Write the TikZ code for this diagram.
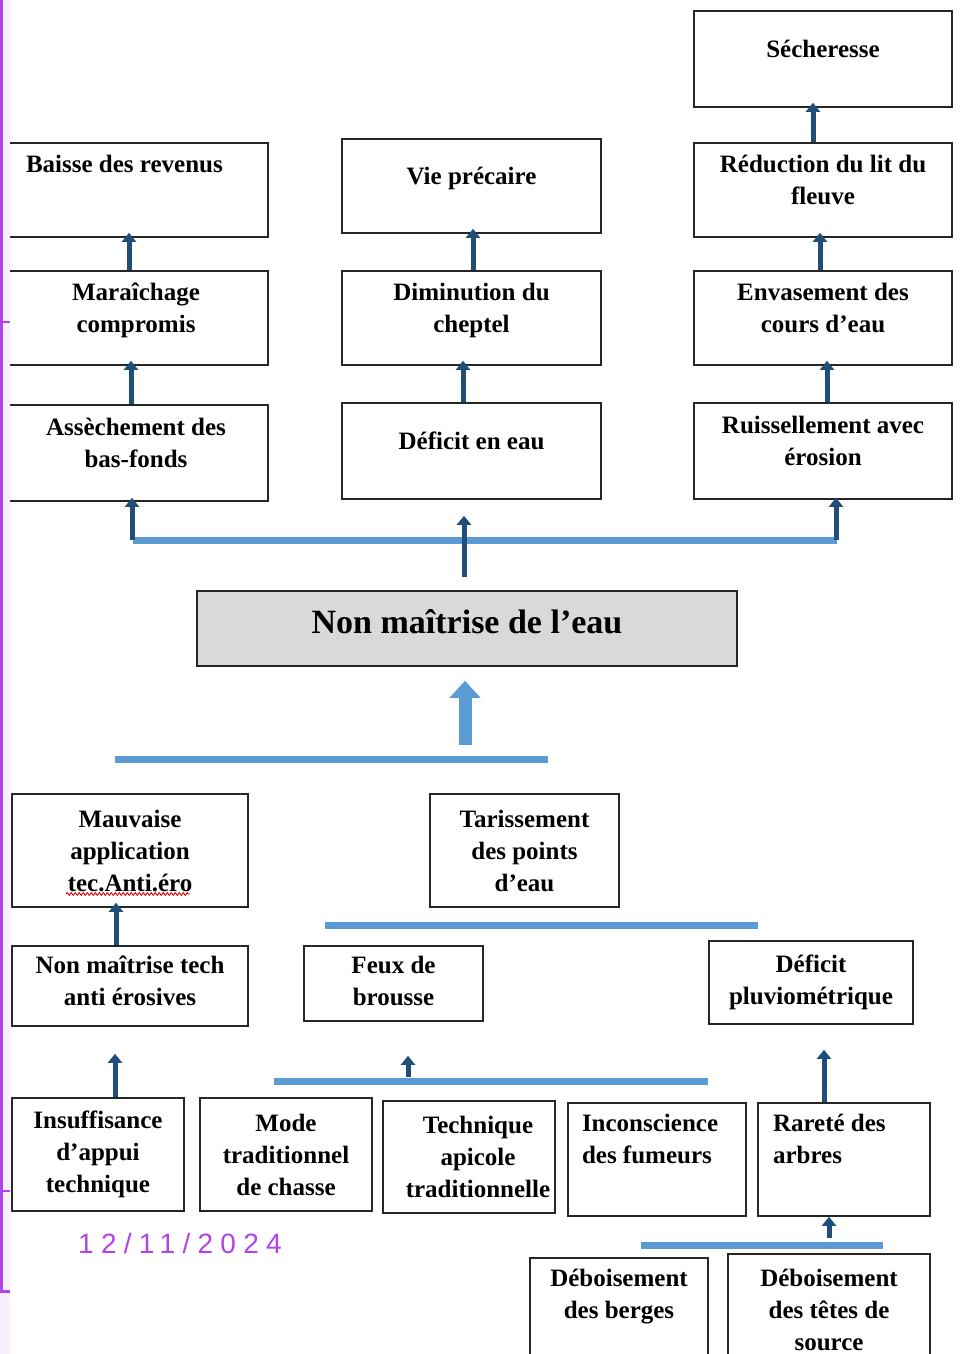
\documentclass[tikz,border=0pt]{standalone}
\usepackage{fontspec}
\setmainfont{Liberation Serif}
\newfontfamily\datefont{Liberation Sans}[LetterSpace=26]
\usetikzlibrary{arrows.meta,decorations.pathmorphing}
\definecolor{arrdark}{HTML}{1F4E79}
\definecolor{barblue}{HTML}{5B9BD5}
\definecolor{boxgray}{HTML}{D9D9D9}
\definecolor{slide}{HTML}{B044E6}
\definecolor{strip}{HTML}{F8F1FD}

\begin{document}
\begin{tikzpicture}[x=1pt,y=-1pt,
    box/.style={draw=black!85,line width=1.6pt,inner sep=0pt,align=center,
      font=\fontsize{25}{32}\selectfont\bfseries},
    upper/.style={box,text depth=20pt},
    darr/.style={draw=arrdark,line width=5pt,-{Triangle[width=14pt,length=9pt]}},
    into/.style={shorten >=-5pt},
    bar/.style={draw=barblue,line width=7pt},
    bigarr/.style={draw=barblue,line width=13pt,-{Triangle[width=30pt,length=17pt]}},
  ]
  \clip (0,0) rectangle (960,1354);
  \fill[white] (0,0) rectangle (960,1354);

  % effets
  \path
  (136,190) node[box,minimum width=264,minimum height=94,text depth=52pt,align=flush left,text width=220](revenus) {Baisse des revenus}
  (136,318) node[upper,minimum width=264,minimum height=94](marai) {Maraîchage\\compromis}
  (136,453) node[upper,minimum width=264,minimum height=96](assech) {Assèchement des\\bas-fonds}
  (471.5,186) node[upper,minimum width=259,minimum height=94](vie) {Vie précaire}
  (471.5,318) node[upper,minimum width=259,minimum height=94](chept) {Diminution du\\cheptel}
  (471.5,451) node[upper,minimum width=259,minimum height=96](deficit) {Déficit en eau}
  (823,59) node[upper,minimum width=258,minimum height=96](seche) {Sécheresse}
  (823,190) node[upper,minimum width=258,minimum height=94](reduc) {Réduction du lit du\\fleuve}
  (823,318) node[upper,minimum width=258,minimum height=94](envas) {Envasement des\\cours d’eau}
  (823,451) node[upper,minimum width=258,minimum height=96](ruiss) {Ruissellement avec\\érosion}
  ;

  \draw[darr,into] ([xshift=-7pt]marai.north) -- ([xshift=-7pt]revenus.south);
  \draw[darr,into] ([xshift=-5pt]assech.north) -- ([xshift=-5pt]marai.south);
  \draw[darr,into] ([xshift=1.5pt]chept.north) -- ([xshift=1.5pt]vie.south);
  \draw[darr,into] ([xshift=-8.5pt]deficit.north) -- ([xshift=-8.5pt]chept.south);
  \draw[darr,into] ([xshift=-10pt]reduc.north) -- ([xshift=-10pt]seche.south);
  \draw[darr,into] ([xshift=-3pt]envas.north) -- ([xshift=-3pt]reduc.south);
  \draw[darr,into] ([xshift=4pt]ruiss.north) -- ([xshift=4pt]envas.south);

  % probleme central
  \node[box,fill=boxgray,minimum width=540,minimum height=75,text depth=14pt,
    font=\fontsize{34}{40}\selectfont\bfseries] (nonmait) at (467,628.5) {Non maîtrise de l’eau};

  \coordinate (topbar) at (133,540);
  \coordinate (topmid) at (464,577);
  \draw[bar] (topbar) -- (837,540);
  \draw[darr] ([xshift=-4pt]assech.south |- topbar) -- ([xshift=-4pt,yshift=4pt]assech.south);
  \draw[darr] ([xshift=13pt]ruiss.south |- topbar) -- ([xshift=13pt,yshift=2pt]ruiss.south);
  \draw[darr] (topmid) -- ([yshift=-16pt]deficit.south -| topmid);

  % causes
  \coordinate (bigfoot) at (465,745);
  \draw[bigarr] (bigfoot) -- ([yshift=-14pt]nonmait.south -| bigfoot);
  \draw[bar] (115,759) -- (548,759);

  \path
  (130,850.5) node[box,minimum width=236,minimum height=113](mauv) {Mauvaise\\application\\tec.Anti.éro}
  (524.5,850.5) node[box,minimum width=189,minimum height=113](taris) {Tarissement\\des points\\d’eau}
  (130,986) node[box,minimum width=236,minimum height=80,text depth=10pt](nmtech) {Non maîtrise tech\\anti érosives}
  (393.5,983.5) node[box,minimum width=179,minimum height=75,text depth=6pt](feux) {Feux de\\brousse}
  (811,982.5) node[box,minimum width=204,minimum height=83](pluvio) {Déficit\\pluviométrique}
  ;
  \draw[red!85!black,line width=0.9pt,decorate,decoration={snake,amplitude=1.4pt,segment length=4pt}]
    (66,894) -- (190,894);
  \draw[bar] (325,925) -- (758,925);
  \draw[darr,into] ([xshift=-14pt]nmtech.north) -- ([xshift=-14pt]mauv.south);

  \path
  (98,1154.5) node[box,minimum width=172,minimum height=113](insuf) {Insuffisance\\d’appui\\technique}
  (286,1154.5) node[box,minimum width=172,minimum height=113](chasse) {Mode\\traditionnel\\de chasse}
  (469,1157) node[box,minimum width=172,minimum height=112](apic) {\hspace*{18pt}Technique\\\hspace*{18pt}apicole\\\hspace*{18pt}traditionnelle}
  (657,1159.5) node[box,minimum width=178,minimum height=113,text depth=74pt,align=flush left,text width=150](incons) {Inconscience\\des fumeurs\\\mbox{}}
  (844,1159.5) node[box,minimum width=172,minimum height=113,text depth=74pt,align=flush left,text width=142](rarete) {Rareté des\\arbres\\\mbox{}}
  (619,1310) node[box,minimum width=178,minimum height=104](berges) {Déboisement\\des berges\\\mbox{}}
  (829,1310) node[box,minimum width=202,minimum height=112](tetes) {Déboisement\\des têtes de\\source}
  ;

  \draw[darr] ([xshift=17pt]insuf.north) -- ([xshift=-15pt,yshift=-27pt]nmtech.south);
  \coordinate (feuxfoot) at (408,1077);
  \draw[bar] (274,1081) -- (708,1081);
  \draw[darr] (feuxfoot) -- ([yshift=-34pt]feux.south -| feuxfoot);
  \draw[darr] ([xshift=-20pt]rarete.north) -- ([xshift=13pt,yshift=-25pt]pluvio.south);
  \coordinate (arbfoot) at (829,1238);
  \draw[bar] (641,1245) -- (883,1245);
  \draw[darr] (arbfoot) -- (rarete.south -| arbfoot);

  % bord de la diapo
  \fill[strip] (0,0) rectangle (10,1354);
  \draw[slide,line width=3pt] (1.5,0) -- (1.5,1291) -- (10,1291);
  \draw[slide,line width=2pt] (3,322) -- (10,322) (3,1191) -- (10,1191);
  \node[text=slide,font=\datefont\fontsize{28}{30}\selectfont] (date) at (180,1243) {12/11/2024};
\end{tikzpicture}
\end{document}
